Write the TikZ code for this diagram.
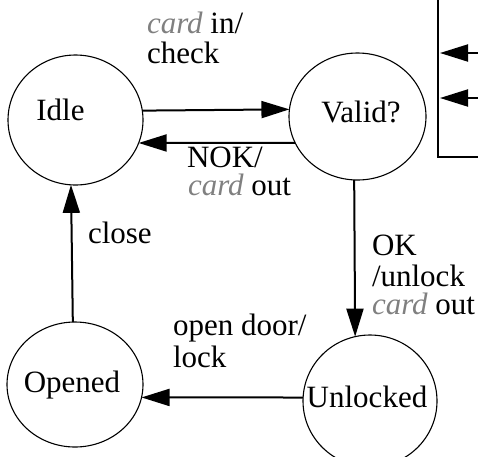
\documentclass[tikz,border=0pt]{standalone}
\usepackage{fontspec}
\setmainfont{Liberation Serif}
\usetikzlibrary{arrows.meta,shapes.geometric}
\definecolor{cardgray}{RGB}{128,128,128}
\newcommand{\card}{\textcolor{cardgray}{\itshape card}}
\tikzset{
  state/.style={ellipse,draw,line width=1.1pt,inner sep=0pt,outer sep=0pt},
  trans/.style={line width=2pt,-{Triangle[length=28pt,width=17pt]}},
  txt/.style={inner sep=0pt,outer sep=0pt,font=\fontsize{31}{31}\selectfont},
  lbl/.style={txt,anchor=base west},
  ctr/.style={txt,anchor=base},
}
\begin{document}
\begin{tikzpicture}[x=1pt,y=-1pt]
\useasboundingbox (0,0) rectangle (478,456);

% states
\node[state,minimum width=135pt,minimum height=130pt] (idle) at (75.5,120) {};
\node[state,minimum width=137pt,minimum height=127pt] (valid) at (357.5,116.5) {};
\node[state,minimum width=134pt,minimum height=132pt] (unlocked) at (370,401) {};
\node[state,minimum width=136pt,minimum height=125pt] (opened) at (75,384.5) {};

\node[ctr] (tidle) at (60.5,120) {Idle};
\node[ctr] (tvalid) at (361,122) {Valid?};
\node[ctr] (tunlocked) at (367,407) {Unlocked};
\node[ctr] (topened) at (72,392) {Opened};

% transitions
\draw[trans] (idle.8.5) -- (valid.174.5);
\draw[trans] (valid.203.1) -- (idle.-20);
\draw[trans] (valid.267.7) -- (unlocked.103.1);
\draw[trans] (unlocked.177.4) -- (opened.-11.5);
\draw[trans] (opened.92.7) -- (idle.266.9);

% transition labels
\node[lbl] (l1a) at (147,33) {\card{} in/};
\node[lbl] (l1b) at (147,63) {check};
\node[lbl] (l2a) at (187,167) {NOK/};
\node[lbl] (l2b) at (188,195) {\card{} out};
\node[lbl] (l3a) at (372,255) {OK};
\node[lbl] (l3b) at (372,286) {/unlock};
\node[lbl] (l3c) at (372,314) {\card{} out};
\node[lbl] (l4a) at (173,335) {open door/};
\node[lbl] (l4b) at (173,367) {lock};
\node[lbl] (l5) at (88,243) {close};

% partial box at the top right
\coordinate (btop) at (438,0);
\coordinate (bcorner) at (438,157);
\coordinate (bright) at (478,157);
\draw[line width=2pt] (btop) -- (bcorner) -- (bright);
\coordinate (in1) at (478,53);
\coordinate (in1tip) at (440,53);
\coordinate (in2) at (478,98);
\coordinate (in2tip) at (440,98);
\draw[trans] (in1) -- (in1tip);
\draw[trans] (in2) -- (in2tip);
\end{tikzpicture}
\end{document}
